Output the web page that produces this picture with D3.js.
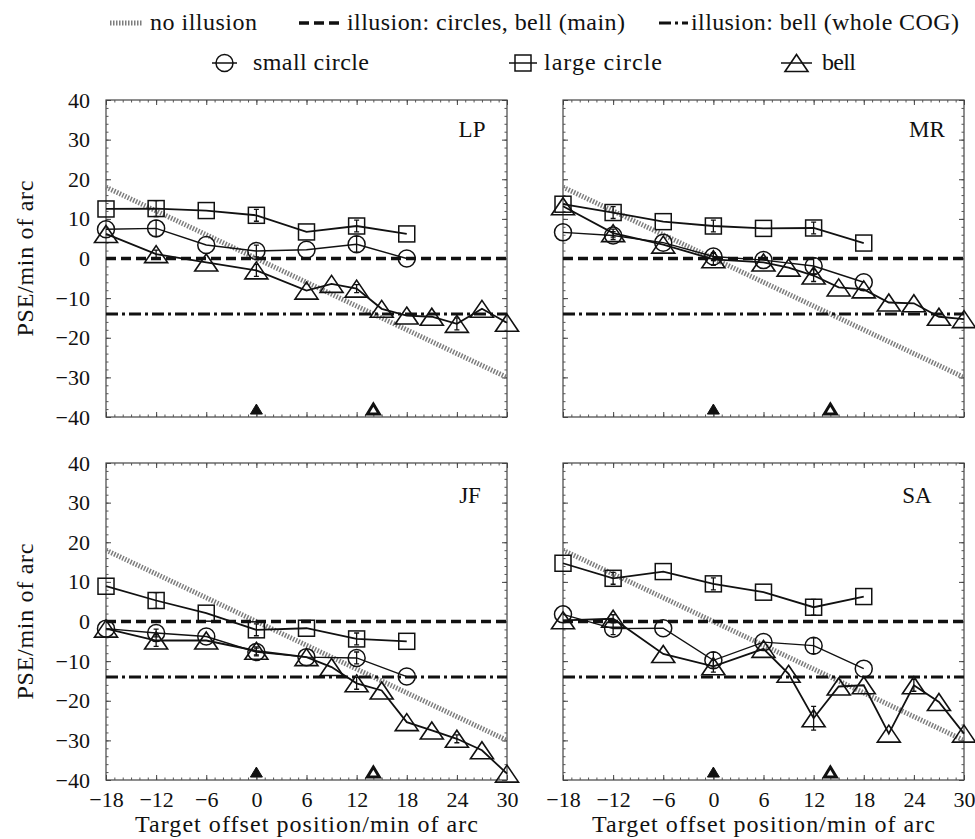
<!DOCTYPE html>
<html>
<head>
<meta charset="utf-8">
<script src="https://cdn.jsdelivr.net/npm/d3@7"></script>
<style>
  body { margin: 0; background: #fff; }
  text { font-family: "Liberation Serif", "Times New Roman", serif; fill: #111; }
</style>
</head>
<body>
<svg id="chart" width="975" height="839"></svg>
<script>
// x positions (min of arc)
var xCircles = [-18, -12, -6, 0, 6, 12, 18];
var xBell = [-18, -12, -6, 0, 6, 9, 12, 15, 18, 21, 24, 27, 30];
var xTicks = [-18, -12, -6, 0, 6, 12, 18, 24, 30];
var yTicks = [-40, -30, -20, -10, 0, 10, 20, 30, 40];
var subjects = ["LP", "MR", "JF", "SA"];

// PSE values
var smallLP = [7.4, 7.6, 3.4, 1.9, 2.2, 3.6, 0];
var largeLP = [12.5, 12.6, 12.1, 10.9, 6.7, 8.2, 6.2];
var bellLP  = [6.2, 1.1, -1.0, -3.0, -8.1, -6.4, -7.6, -12.7, -14.4, -14.7, -16.5, -12.7, -16.2];

var smallMR = [6.6, 5.8, 4.0, 0.5, -0.4, -1.9, -6.0];
var largeMR = [13.7, 11.6, 9.3, 8.2, 7.6, 7.7, 3.9];
var bellMR  = [13.2, 6.4, 3.5, -0.2, -1.0, -2.3, -4.3, -7.3, -7.8, -11.1, -11.3, -14.7, -15.3];

var smallJF = [-1.8, -2.9, -3.8, -7.7, -9.0, -9.2, -13.9];
var largeJF = [8.9, 5.3, 2.1, -2.1, -1.7, -4.4, -5.0];
var bellJF  = [-1.8, -4.8, -4.8, -7.4, -9.0, -11.5, -15.6, -17.4, -25.4, -27.5, -29.6, -32.5, -38.4];

var smallSA = [1.8, -1.8, -1.7, -9.8, -5.2, -6.1, -11.9];
var largeSA = [14.7, 10.9, 12.6, 9.5, 7.4, 3.6, 6.3];
var bellSA  = [0.3, 0.7, -8.2, -11.3, -6.9, -13.2, -24.4, -16.4, -16.1, -28.3, -16.1, -20.3, -28.3];

// half-length of error bars (0 = none visible)
var errSmall = {LP: [0, 2, 0, 1.5, 0, 2, 0], MR: [0, 1, 0, 1, 0, 2, 0], JF: [0, 1, 0, 1, 0, 1.5, 0], SA: [0, 1.5, 0, 2, 0, 2, 0]};
var errLarge = {LP: [0, 2, 0, 1.5, 0, 1.5, 0], MR: [0, 1.5, 0, 1.5, 0, 1.5, 0], JF: [0, 2, 0, 1.5, 0, 1.5, 0], SA: [0, 1.5, 0, 1.5, 0, 2, 0]};
var errBell  = {LP: [0, 1, 0, 1.5, 0, 0, 1, 0, 0, 0, 1.5, 0, 0], MR: [0, 1, 0, 1.5, 0, 0, 1.5, 0, 0, 0, 0, 0, 0],
                JF: [0, 1.5, 0, 1, 0, 0, 1.5, 0, 0, 0, 1, 0, 0], SA: [0, 1, 0, 1.5, 0, 0, 3, 0, 0, 0, 1.5, 0, 0]};

var smallVals = {LP: smallLP, MR: smallMR, JF: smallJF, SA: smallSA};
var largeVals = {LP: largeLP, MR: largeMR, JF: largeJF, SA: largeSA};
var bellVals  = {LP: bellLP, MR: bellMR, JF: bellJF, SA: bellSA};

// reference lines
var noIllusion = [[-18, 18], [30, -30]];
var illusionMain = 0;
var illusionCOG = -14;
var markerBell = [[0, -38], [14, -38]];

var svg = d3.select("#chart");
var panelW = 401, panelH = 317;
var origins = {LP: [106, 100], MR: [563, 100], JF: [106, 463], SA: [563, 463]};
var labelPos = {LP: [366, 37], MR: [364, 37], JF: [364, 40], SA: [354, 40]};

var x = d3.scaleLinear().domain([-18, 30]).range([0, panelW]);
var y = d3.scaleLinear().domain([-40, 40]).range([panelH, 0]);

var fmt = function(d) { return d < 0 ? "\u2212" + Math.abs(d) : String(d); };

var triPath = function(w, h) {
  return "M0," + (-h / 2) + "L" + (w / 2) + "," + (h / 2) + "L" + (-w / 2) + "," + (h / 2) + "Z";
};

function drawMarker(g, kind, cx, cy) {
  if (kind == "circle") {
    g.append("circle").attr("cx", cx).attr("cy", cy).attr("r", 8.5)
      .attr("fill", "none").attr("stroke", "#111").attr("stroke-width", 1.5);
  } else if (kind == "square") {
    g.append("rect").attr("x", cx - 8).attr("y", cy - 8).attr("width", 16).attr("height", 16)
      .attr("fill", "none").attr("stroke", "#111").attr("stroke-width", 1.5);
  } else {
    g.append("path").attr("d", triPath(23, 17)).attr("transform", "translate(" + cx + "," + cy + ")")
      .attr("fill", "none").attr("stroke", "#111").attr("stroke-width", 1.6);
  }
}

function drawSeries(g, xs, ys, errs, kind, lw) {
  var pts = xs.map(function(d, i) { return [x(d), y(ys[i])]; });
  g.append("path").attr("d", d3.line()(pts))
    .attr("fill", "none").attr("stroke", "#111").attr("stroke-width", lw);
  pts.forEach(function(p, i) {
    var e = errs[i];
    if (e > 0) {
      var y1 = y(ys[i] + e), y2 = y(ys[i] - e);
      g.append("path")
        .attr("d", "M" + p[0] + "," + y1 + "V" + y2 + "M" + (p[0] - 2.5) + "," + y1 + "h5M" + (p[0] - 2.5) + "," + y2 + "h5")
        .attr("stroke", "#111").attr("stroke-width", 1.3).attr("fill", "none");
    }
    drawMarker(g, kind, p[0], p[1]);
  });
}

subjects.forEach(function(s, idx) {
  var o = origins[s];
  var g = svg.append("g").attr("transform", "translate(" + o[0] + "," + o[1] + ")");

  // frame and inward ticks on all four sides
  g.append("rect").attr("width", panelW).attr("height", panelH)
    .attr("fill", "none").attr("stroke", "#444").attr("stroke-width", 1.2);

  var minorX = d3.range(-18, 31, 1), minorY = d3.range(-40, 41, 2);
  ["bottom", "top"].forEach(function(side) {
    var mk = function() { return side == "bottom" ? d3.axisBottom(x) : d3.axisTop(x); };
    var ty = side == "bottom" ? panelH : 0;
    g.append("g").attr("transform", "translate(0," + ty + ")")
      .call(mk().tickValues(minorX).tickSize(-2.5).tickFormat(""))
      .call(function(a) { a.select(".domain").remove(); a.selectAll("line").attr("stroke", "#555"); });
    g.append("g").attr("transform", "translate(0," + ty + ")")
      .call(mk().tickValues(xTicks).tickSize(-5).tickFormat(""))
      .call(function(a) { a.select(".domain").remove(); a.selectAll("line").attr("stroke", "#444"); });
  });
  ["left", "right"].forEach(function(side) {
    var mk = function() { return side == "left" ? d3.axisLeft(y) : d3.axisRight(y); };
    var tx = side == "left" ? 0 : panelW;
    g.append("g").attr("transform", "translate(" + tx + ",0)")
      .call(mk().tickValues(minorY).tickSize(-2.5).tickFormat(""))
      .call(function(a) { a.select(".domain").remove(); a.selectAll("line").attr("stroke", "#555"); });
    g.append("g").attr("transform", "translate(" + tx + ",0)")
      .call(mk().tickValues(yTicks).tickSize(-5).tickFormat(""))
      .call(function(a) { a.select(".domain").remove(); a.selectAll("line").attr("stroke", "#444"); });
  });

  // tick labels: y on left column, x on bottom row
  if (idx % 2 == 0) {
    g.append("g").call(d3.axisLeft(y).tickValues(yTicks).tickSize(0).tickPadding(16).tickFormat(fmt))
      .call(function(a) {
        a.select(".domain").remove();
        a.selectAll("text").style("font-family", "Liberation Serif").style("font-size", "22px").attr("fill", "#111");
      });
    g.append("text").attr("transform", "translate(-73," + (panelH / 2) + ") rotate(-90)")
      .attr("text-anchor", "middle").style("font-size", "24px")
      .attr("textLength", 156).attr("lengthAdjust", "spacing")
      .text("PSE/min of arc");
  }
  if (idx >= 2) {
    g.append("g").attr("transform", "translate(0," + panelH + ")")
      .call(d3.axisBottom(x).tickValues(xTicks).tickSize(0).tickPadding(11).tickFormat(fmt))
      .call(function(a) {
        a.select(".domain").remove();
        a.selectAll("text").style("font-family", "Liberation Serif").style("font-size", "22px").attr("fill", "#111");
      });
    g.append("text").attr("x", panelW / 2).attr("y", panelH + 52)
      .attr("text-anchor", "middle").style("font-size", "24px")
      .attr("textLength", 343).attr("lengthAdjust", "spacing")
      .text("Target offset position/min of arc");
  }

  // reference lines
  g.append("path").attr("d", d3.line()(noIllusion.map(function(p) { return [x(p[0]), y(p[1])]; })))
    .attr("stroke", "#7d7d7d").attr("stroke-width", 5).attr("stroke-dasharray", "1.5,1.5").attr("fill", "none");
  g.append("line").attr("x1", x(-18)).attr("x2", x(30)).attr("y1", y(illusionMain)).attr("y2", y(illusionMain))
    .attr("stroke", "#111").attr("stroke-width", 3.5).attr("stroke-dasharray", "10,5");
  g.append("line").attr("x1", x(-18)).attr("x2", x(30)).attr("y1", y(illusionCOG)).attr("y2", y(illusionCOG))
    .attr("stroke", "#111").attr("stroke-width", 3).attr("stroke-dasharray", "12,4,3,4");

  // data
  drawSeries(g, xCircles, largeVals[s], errLarge[s], "square", 1.8);
  drawSeries(g, xCircles, smallVals[s], errSmall[s], "circle", 1.4);
  drawSeries(g, xBell, bellVals[s], errBell[s], "triangle", 1.8);

  // position markers on the bottom: filled = main COG, open = whole COG
  markerBell.forEach(function(m, i) {
    g.append("path").attr("d", triPath(12, 10))
      .attr("transform", "translate(" + x(m[0]) + "," + y(m[1]) + ")")
      .attr("fill", i == 0 ? "#111" : "none").attr("stroke", "#111").attr("stroke-width", i == 0 ? 1 : 3);
  });

  g.append("text").attr("x", labelPos[s][0]).attr("y", labelPos[s][1]).attr("text-anchor", "middle")
    .style("font-size", "23px").text(s);
});

// legend
var legend = svg.append("g");
var row1 = [
  {x: 110, w: 32, tx: 150, tl: 107, label: "no illusion", stroke: "#7d7d7d", sw: 5, dash: "1.5,1.5"},
  {x: 299, w: 42, tx: 347, tl: 278, label: "illusion: circles, bell (main)", stroke: "#111", sw: 3.5, dash: "10,5"},
  {x: 659, w: 29, tx: 691, tl: 268, label: "illusion: bell (whole COG)", stroke: "#111", sw: 3, dash: "12,4,3,4"}
];
row1.forEach(function(d) {
  legend.append("line").attr("x1", d.x).attr("x2", d.x + d.w).attr("y1", 23).attr("y2", 23)
    .attr("stroke", d.stroke).attr("stroke-width", d.sw).attr("stroke-dasharray", d.dash);
  legend.append("text").attr("x", d.tx).attr("y", 30)
    .attr("textLength", d.tl).attr("lengthAdjust", "spacing")
    .style("font-size", "24px").text(d.label);
});
var row2 = [
  {x: 212, w: 25, tx: 253, tl: 116, kind: "circle", label: "small circle"},
  {x: 509, w: 28, tx: 544, tl: 118, kind: "square", label: "large circle"},
  {x: 781, w: 31, tx: 822, tl: 34, kind: "triangle", label: "bell"}
];
row2.forEach(function(d) {
  legend.append("line").attr("x1", d.x).attr("x2", d.x + d.w).attr("y1", 63).attr("y2", 63)
    .attr("stroke", "#111").attr("stroke-width", 1.5);
  drawMarker(legend, d.kind, d.x + d.w / 2, 63);
  legend.append("text").attr("x", d.tx).attr("y", 70)
    .attr("textLength", d.tl).attr("lengthAdjust", "spacing")
    .style("font-size", "24px").text(d.label);
});
</script>
</body>
</html>
